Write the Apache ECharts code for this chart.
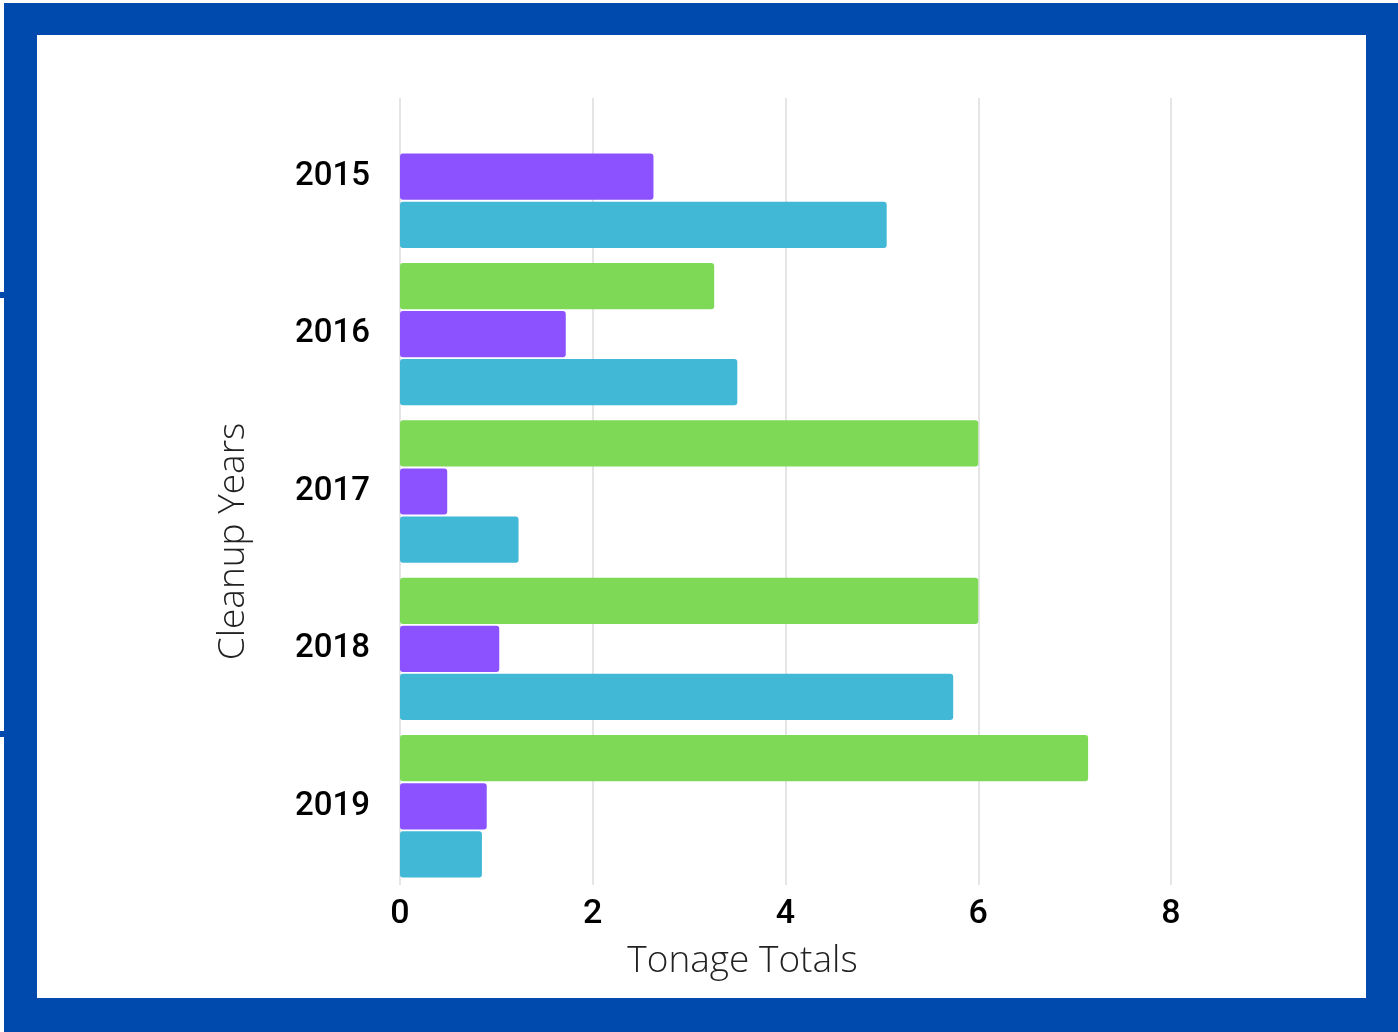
<!DOCTYPE html>
<html>
<head>
<meta charset="utf-8">
<script src="https://cdn.jsdelivr.net/npm/echarts@6/dist/echarts.min.js"></script>
<style>
  html, body { margin: 0; padding: 0; background: #fff; }
  #frame { position: absolute; left: 4px; top: 3px; width: 1394px; height: 1029px; background: #004aad; }
  .notch { position: absolute; left: 0; width: 6px; height: 6px; background: #004aad; }
  #chart { position: absolute; left: 37px; top: 35px; width: 1329px; height: 963px; background: #fff; }
</style>
</head>
<body>
<div id="frame"></div>
<div class="notch" style="top:292px"></div>
<div class="notch" style="top:731px"></div>
<div id="chart"></div>
<script>
const years = ['2015', '2016', '2017', '2018', '2019']
const greenValues = [null, 3.26, 6.0, 6.0, 7.14]
const purpleValues = [2.63, 1.72, 0.49, 1.03, 0.9]
const blueValues = [5.05, 3.5, 1.23, 5.74, 0.85]
const xTicks = [0, 2, 4, 6, 8]

const chart = echarts.init(document.getElementById('chart'))

function barSeries(data, color) {
  return {
    type: 'bar',
    data: data,
    barGap: '4%',
    barCategoryGap: '9.5%',
    itemStyle: { color: color, borderRadius: 3 },
  }
}

const option = {
  backgroundColor: '#fff',
  animation: false,
  grid: {
    left: 363,
    right: 1329 - 1134,
    top: 63,
    bottom: 963 - 850,
  },
  xAxis: {
    type: 'value',
    min: xTicks[0],
    max: xTicks[xTicks.length - 1],
    interval: 2,
    name: 'Tonage Totals',
    nameLocation: 'middle',
    nameGap: 58,
    nameTextStyle: {
      fontFamily: 'Open Sans',
      fontWeight: 300,
      fontSize: 37,
      color: '#222',
      padding: [0, 86, 0, 0],
    },
    axisLine: { show: false },
    axisTick: { show: false },
    axisLabel: {
      margin: 12,
      color: '#000',
      fontSize: 34,
      fontWeight: 500,
      fontFamily: 'Roboto, sans-serif',
    },
    splitLine: { lineStyle: { color: '#dcdcdc', width: 1.5 } },
  },
  yAxis: {
    type: 'category',
    data: years,
    inverse: true,
    name: 'Cleanup Years',
    nameLocation: 'middle',
    nameGap: 148,
    nameTextStyle: {
      fontFamily: 'Open Sans',
      fontWeight: 300,
      fontSize: 37,
      color: '#222',
      padding: [0, 100, 0, 0],
    },
    axisLine: { show: false },
    axisTick: { show: false },
    axisLabel: {
      margin: 30,
      color: '#000',
      fontSize: 33,
      fontWeight: 500,
      fontFamily: 'Roboto, sans-serif',
      padding: [8, 0, 0, 0],
    },
  },
  series: [
    barSeries(greenValues, '#7ed957'),
    barSeries(purpleValues, '#8c52ff'),
    barSeries(blueValues, '#41b8d5'),
  ],
}

chart.setOption(option)
</script>
</body>
</html>
